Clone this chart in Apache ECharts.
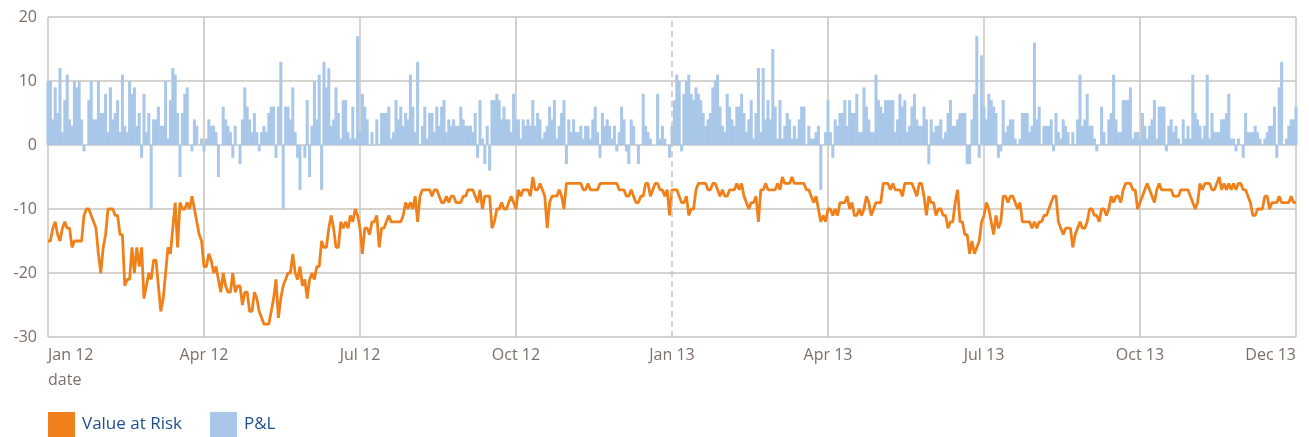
<!DOCTYPE html>
<html>
<head>
<meta charset="utf-8">
<script src="https://cdn.jsdelivr.net/npm/echarts@6/dist/echarts.min.js"></script>
<style>
  html, body { margin: 0; padding: 0; background: #ffffff; }
  #chart { width: 1309px; height: 437px; }
</style>
</head>
<body>
<div id="chart"></div>
<script>
// Quarterly tick labels (one every 65 trading days)
const tickLabels = ['Jan 12', 'Apr 12', 'Jul 12', 'Oct 12', 'Jan 13', 'Apr 13', 'Jul 13', 'Oct 13', 'Dec 13'];
const yearBreakLabel = 'Jan 13';

// Daily Value at Risk (negative), Jan 2012 - Dec 2013
const valueAtRisk = [
  -15,-15,-13,-12,-14,-15,-13,-12,-13,-13,
  -16,-15,-15,-15,-15,-11,-10,-10,-11,-12,
  -13,-17,-20,-16,-14,-10,-10,-10,-11,-11,
  -14,-14,-22,-21,-21,-16,-20,-16,-19,-16,
  -24,-22,-20,-21,-18,-18,-22,-26,-24,-20,
  -16,-17,-13,-9,-16,-9,-10,-10,-9,-10,
  -8,-10,-12,-14,-15,-19,-19,-17,-18,-20,
  -19,-21,-23,-20,-22,-23,-23,-20,-23,-22,
  -22,-25,-23,-23,-26,-26,-23,-24,-26,-27,
  -28,-28,-28,-26,-24,-21,-27,-24,-22,-21,
  -20,-20,-17,-20,-21,-19,-22,-21,-24,-21,
  -20,-21,-19,-19,-15,-16,-16,-13,-11,-13,
  -16,-16,-12,-13,-12,-13,-11,-12,-10,-11,
  -13,-17,-13,-13,-14,-12,-12,-11,-16,-13,
  -13,-12,-11,-12,-12,-12,-12,-12,-11,-9,
  -10,-9,-10,-8,-12,-8,-7,-7,-7,-7,
  -8,-7,-7,-8,-9,-9,-8,-9,-8,-8,
  -9,-9,-9,-8,-8,-7,-7,-7,-8,-9,
  -7,-10,-8,-8,-8,-13,-12,-10,-10,-9,
  -10,-10,-9,-8,-9,-10,-7,-8,-7,-7,
  -7,-8,-5,-7,-7,-6,-7,-8,-13,-9,
  -8,-8,-8,-7,-8,-10,-6,-6,-6,-6,
  -6,-6,-6,-7,-7,-6,-7,-7,-7,-7,
  -6,-6,-6,-6,-6,-6,-6,-6,-7,-7,
  -7,-8,-8,-7,-8,-9,-9,-8,-8,-6,
  -6,-8,-7,-6,-6,-7,-7,-8,-7,-11,
  -7,-7,-7,-8,-9,-9,-8,-11,-10,-10,
  -7,-6,-6,-6,-6,-7,-7,-6,-6,-7,
  -8,-7,-8,-8,-7,-7,-7,-6,-7,-6,
  -8,-9,-10,-9,-9,-8,-12,-7,-7,-6,
  -7,-7,-7,-7,-6,-7,-5,-6,-6,-6,
  -5,-6,-6,-6,-6,-6,-7,-7,-8,-9,
  -8,-10,-12,-11,-12,-10,-10,-11,-10,-11,
  -9,-9,-9,-8,-10,-9,-11,-11,-10,-11,
  -10,-8,-9,-11,-10,-9,-9,-9,-6,-6,
  -6,-7,-6,-7,-7,-7,-8,-6,-6,-6,
  -6,-7,-8,-6,-6,-8,-11,-8,-9,-9,
  -11,-10,-10,-11,-11,-13,-12,-12,-9,-7,
  -12,-12,-14,-14,-17,-15,-17,-16,-15,-12,
  -11,-9,-10,-12,-14,-11,-13,-12,-8,-8,
  -9,-8,-8,-9,-10,-9,-12,-12,-12,-12,
  -13,-12,-13,-12,-12,-11,-11,-10,-9,-8,
  -8,-12,-13,-14,-13,-13,-13,-16,-14,-13,
  -12,-13,-13,-12,-10,-10,-11,-11,-12,-10,
  -10,-11,-10,-8,-9,-8,-8,-9,-7,-6,
  -6,-6,-7,-7,-10,-9,-8,-7,-6,-7,
  -8,-9,-7,-6,-7,-7,-7,-7,-7,-8,
  -8,-8,-7,-7,-7,-7,-8,-9,-10,-9,
  -6,-7,-6,-6,-6,-7,-7,-6,-5,-7,
  -6,-7,-6,-7,-6,-7,-6,-6,-7,-7,
  -8,-9,-11,-11,-10,-10,-10,-8,-8,-10,
  -9,-9,-9,-8,-9,-9,-9,-9,-8,-9,-9
];

// Daily P&L
const profitLoss = [
  10,10,4,9,5,12,2,7,11,4, 3,10,9,10,4,-1,0,7,10,4, 4,10,5,5,8,2,9,4,5,7,
  2,11,3,2,10,8,9,3,5,-2, 8,2,5,-10,4,4,6,3,3,10, 1,7,12,11,5,-5,5,8,9,0, -1,4,3,0,1,
  -1,1,4,3,3,2,-5,0,6,4, 3,2,-2,3,0,-3,4,9,6,4, 2,5,2,-1,2,3,2,5,6,6,
  -2,6,13,-10,6,6,4,9,2,-2, -7,0,-2,7,-5,3,10,4,11,-7, 13,9,12,3,4,9,5,1,7,7, 2,1,6,1,17,
  2,8,6,4,0,2,0,4,0,5, 5,5,6,1,2,7,4,6,3,5, 4,11,6,2,13,0,3,6,1,5,
  5,2,6,3,6,7,2,4,3,4, 3,3,6,4,3,3,3,2,5,-2, 7,1,-3,3,-4,7,7,8,7,4, 6,4,4,2,8,4,
  4,1,4,3,4,3,7,3,5,4, 1,2,3,6,4,7,1,3,5,7, -3,4,2,4,2,2,3,1,3,3,
  1,4,6,2,-2,5,3,4,3,1, 3,-1,2,6,4,-1,-3,4,3,0, -3,0,8,3,2,1,0,0,8,1, 3,1,0,-2,
  3,7,11,10,-1, 8,10,11,8,7,9,8,7,5,3,4,5,9,10,11,6,3,2,8,6,4,3,6,6,8,5,2,4,7,
  1,5,12,2,12,4,7,4,15,6, 1,7,1,3,5,4,1,3,1,4, 6,6,0,3,1,1,2,3,-7,0,
  2,7,2,-2,4,3,5,5,7,3, 7,5,5,8,2,2,9,6,4,2, 2,11,7,6,5,7,7,7,7,2,
  4,8,6,7,2,3,6,8,4,3, 3,6,4,-3,4,2,3,3,4,1, 2,5,7,3,3,4,5,5,5,-3, -3,4,8,17,-2,
  14,6,4,8,7,6,5,-2,-1,7, 2,3,4,4,1,0,1,5,5,5, 2,3,16,4,6,0,3,3,3,4,
  -1,5,2,1,4,3,2,0,2,0, 4,11,3,4,8,3,3,1,-1,0, 6,2,0,4,5,11,4,2,2,7, 7,7,9,1,
  2,2,1,5,3,1,3,4,7,1, 6,6,6,-1,3,4,2,3,1,0, 4,1,3,1,11,5,4,3,1,3,
  11,1,5,2,2,2,4,4,5,8, 1,1,-1,1,0,-2,5,2,2,2, 3,2,1,0,1,2,3,3,6,-2, 9,13,0,1,3,4,4,6
];

const labelStep = 65;
const days = valueAtRisk.map((_, i) => i);
const breakIndex = tickLabels.indexOf(yearBreakLabel) * labelStep;

const gridColor = '#c9c3be';
const axisTextColor = '#7c6f67';

const chart = echarts.init(document.getElementById('chart'), null, { renderer: 'canvas' });
chart.setOption({
  animation: false,
  backgroundColor: '#ffffff',
  textStyle: { fontFamily: 'Open Sans' },
  grid: { left: 48, right: 13, top: 17, bottom: 100, containLabel: false },
  legend: {
    left: 48, top: 412, padding: 0,
    itemWidth: 27, itemHeight: 25, itemGap: 28,
    icon: 'rect',
    textStyle: { fontSize: 17, color: '#1d4f8f', fontFamily: 'Open Sans', padding: [2, 0, 0, 2] },
    data: ['Value at Risk', 'P&L']
  },
  graphic: [{
    type: 'text', left: 48, top: 372,
    style: { text: 'date', fontSize: 16, fill: axisTextColor, fontFamily: 'Open Sans' }
  }],
  xAxis: {
    type: 'category',
    data: days,
    boundaryGap: false,
    axisLine: { show: false },
    axisTick: { show: false },
    axisLabel: {
      interval: (i) => i % labelStep === 0,
      formatter: (v, i) => tickLabels[Math.round(i / labelStep)] || '',
      color: axisTextColor, fontSize: 16, margin: 10,
      alignMinLabel: 'left', alignMaxLabel: 'right'
    },
    splitLine: {
      show: true,
      interval: (i) => i % labelStep === 0 && i !== breakIndex,
      lineStyle: { color: gridColor, width: 1.5 }
    }
  },
  yAxis: {
    type: 'value',
    min: -30, max: 20, interval: 10,
    axisLine: { show: false },
    axisTick: { show: false },
    axisLabel: { color: axisTextColor, fontSize: 16, margin: 11 },
    splitLine: { show: true, lineStyle: { color: gridColor, width: 1.5 } }
  },
  series: [
    {
      name: 'P&L',
      type: 'bar',
      data: profitLoss,
      barWidth: 3,
      itemStyle: { color: '#a8c7e9' },
      z: 2,
      markLine: {
        silent: true,
        symbol: 'none',
        label: { show: false },
        lineStyle: { color: gridColor, type: [6, 4], width: 1.5 },
        data: [{ xAxis: breakIndex }]
      }
    },
    {
      name: 'Value at Risk',
      type: 'line',
      data: valueAtRisk,
      showSymbol: false,
      symbol: 'none',
      lineStyle: { color: '#ef801a', width: 2.8 },
      itemStyle: { color: '#ef801a' },
      z: 3
    }
  ]
});
</script>
</body>
</html>
